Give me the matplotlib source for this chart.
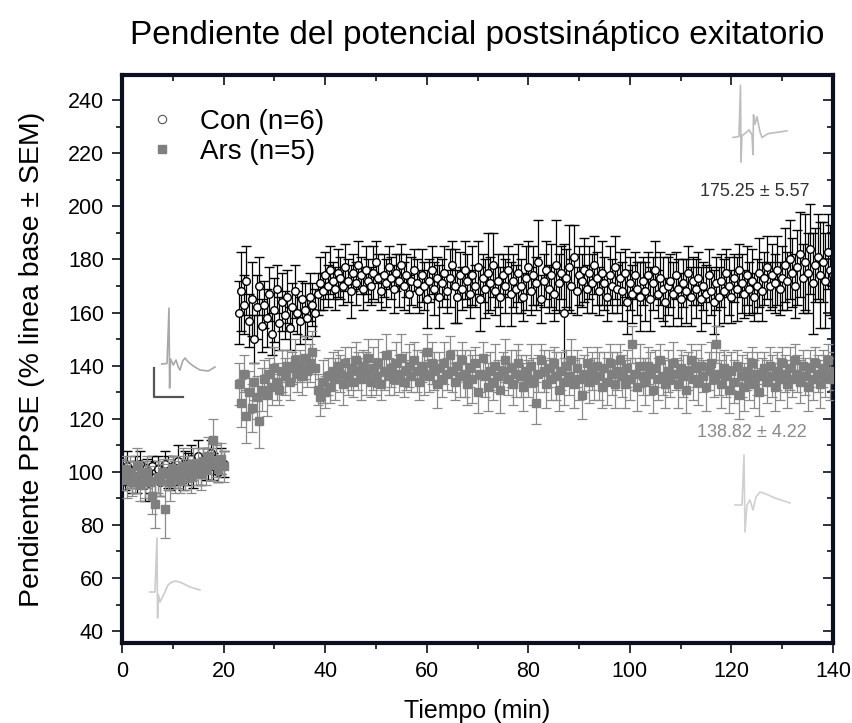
import numpy as np
import matplotlib
matplotlib.use('Agg')
import matplotlib.pyplot as plt
from matplotlib.lines import Line2D
from matplotlib.ticker import MultipleLocator

plt.rcParams['font.family'] = ['Liberation Sans', 'DejaVu Sans']

# sampling times (min): baseline, then post-stimulation
t_base = np.arange(0, 20.01, 0.5)
t_post = np.arange(23, 140.01, 0.5)

# Con (n=6)
con_base = [100, 97, 102, 99, 96, 101, 98, 103, 99, 95, 100, 97, 102, 98, 101, 96, 99, 103, 100, 98,
            102, 99, 104, 100, 97, 103, 101, 105, 99, 102, 106, 100, 104, 101, 103, 107, 102, 105, 100, 104, 103]
con_base_sem = [5, 4, 6, 5, 4, 5, 6, 5, 4, 6, 5, 5, 4, 6, 5, 5, 4, 5, 6, 5,
                4, 5, 6, 5, 4, 5, 6, 5, 5, 4, 6, 5, 5, 4, 6, 5, 5, 6, 4, 5, 5]
con_post = [160, 168, 163, 172, 157, 165, 150, 162, 170, 155,
            163, 158, 167, 152, 161, 169, 156, 164, 159, 166,
            154, 162, 168, 160, 157, 165, 161, 158, 166, 163,
            160, 167, 171, 168, 174, 170, 176, 172, 169, 175,
            173, 170, 177, 172, 168, 175, 171, 178, 174, 169,
            176, 172, 170, 175, 179, 173, 168, 174, 171, 177,
            173, 169, 175, 172, 178, 170, 174, 167, 172, 176,
            171, 168, 174, 170, 165, 172, 176, 169, 173, 166,
            171, 175, 168, 173, 178, 170, 166, 174, 169, 176,
            172, 167, 174, 170, 177, 165, 173, 169, 175, 171,
            178, 168, 172, 166, 174, 170, 176, 167, 172, 169,
            175, 170, 166, 173, 177, 168, 174, 171, 179, 165,
            172, 176, 169, 174, 167, 178, 171, 175, 160, 173,
            177, 170, 181, 168, 174, 172, 176, 169, 175, 171,
            178, 173, 168, 175, 171, 166, 174, 170, 177, 169,
            173, 168, 175, 164, 171, 167, 174, 169, 166, 172,
            168, 174, 165, 171, 176, 167, 173, 169, 164, 170,
            172, 167, 174, 169, 165, 171, 168, 175, 166, 172,
            169, 173, 165, 170, 167, 174, 168, 164, 171, 166,
            172, 168, 175, 170, 166, 173, 169, 176, 171, 167,
            174, 169, 172, 166, 170, 175, 168, 173, 177, 170,
            174, 171, 176, 169, 173, 178, 172, 180, 175, 170,
            177, 182, 173, 179, 175, 184, 171, 178, 181, 174,
            179, 172, 183, 176, 174]
con_post_sem = [12, 15, 11, 13, 10, 14, 9, 12, 11, 10,
                9, 11, 10, 8, 12, 9, 10, 11, 9, 10,
                8, 9, 10, 8, 9, 7, 10, 8, 9, 8,
                9, 8, 10, 7, 9, 8, 9, 7, 8, 9,
                8, 7, 9, 8, 10, 7, 8, 9, 7, 8,
                9, 8, 7, 10, 8, 9, 7, 8, 9, 8,
                8, 9, 7, 10, 8, 9, 8, 7, 9, 8,
                9, 8, 10, 9, 11, 8, 9, 10, 8, 12,
                9, 10, 8, 11, 9, 14, 10, 9, 8, 11,
                10, 9, 11, 8, 10, 12, 9, 11, 15, 10,
                12, 9, 10, 11, 8, 10, 9, 12, 10, 9,
                11, 10, 9, 12, 10, 9, 11, 10, 16, 9,
                10, 11, 9, 12, 10, 17, 11, 10, 26, 11,
                16, 10, 12, 9, 11, 10, 12, 9, 10, 11,
                11, 10, 9, 12, 10, 9, 11, 10, 12, 9,
                10, 11, 9, 12, 10, 11, 9, 10, 13, 9,
                11, 9, 12, 10, 11, 9, 10, 12, 9, 11,
                10, 12, 9, 11, 10, 9, 12, 10, 11, 9,
                11, 10, 12, 9, 11, 10, 9, 12, 10, 11,
                10, 12, 9, 11, 10, 9, 12, 10, 11, 9,
                11, 10, 12, 9, 10, 13, 11, 10, 12, 9,
                12, 11, 13, 10, 12, 14, 11, 15, 13, 12,
                14, 16, 13, 18, 15, 17, 19, 14, 16, 20,
                15, 18, 14, 17, 16]

# Ars (n=5)
ars_base = [99, 101, 97, 100, 96, 98, 102, 95, 99, 97, 100, 96, 91, 88, 98, 97, 100, 86, 99, 96,
            101, 98, 100, 97, 102, 99, 101, 98, 103, 100, 102, 99, 104, 101, 106, 103, 112, 104, 101, 105, 102]
ars_base_sem = [6, 5, 7, 6, 5, 6, 7, 6, 5, 7, 6, 6, 7, 9, 6, 6, 5, 11, 6, 7,
                5, 6, 6, 5, 7, 6, 5, 6, 6, 5, 7, 6, 5, 6, 7, 6, 8, 6, 5, 6, 6]
ars_post = [133, 126, 137, 121, 130, 124, 134, 128, 119, 131,
            135, 129, 137, 132, 139, 134, 131, 138, 136, 140,
            134, 139, 142, 137, 140, 136, 143, 138, 141, 145,
            139, 131, 128, 134, 130, 136, 132, 138, 135, 140,
            137, 133, 141, 136, 139, 134, 142, 138, 135, 140,
            137, 143, 134, 139, 136, 141, 133, 138, 144, 136,
            139, 135, 141, 137, 143, 134, 138, 140, 136, 142,
            138, 134, 140, 137, 145, 136, 141, 138, 133, 139,
            135, 141, 137, 144, 138, 134, 140, 136, 142, 137,
            133, 139, 135, 141, 130, 137, 143, 136, 132, 138,
            134, 140, 136, 131, 138, 142, 135, 139, 133, 137,
            141, 136, 132, 138, 135, 140, 134, 126, 137, 142,
            138, 133, 139, 135, 141, 136, 131, 138, 134, 140,
            136, 142, 133, 139, 135, 129, 137, 141, 134, 138,
            135, 140, 136, 132, 139, 134, 141, 137, 133, 138,
            142, 136, 133, 139, 135, 148, 137, 132, 140, 136,
            134, 140, 137, 131, 139, 135, 142, 136, 133, 138,
            135, 141, 137, 133, 139, 136, 131, 138, 142, 135,
            139, 134, 140, 136, 132, 138, 141, 135, 148, 137,
            133, 139, 136, 131, 138, 134, 140, 129, 136, 132,
            138, 135, 141, 133, 137, 130, 136, 139, 134, 140,
            136, 132, 138, 135, 141, 137, 133, 139, 135, 142,
            137, 134, 140, 136, 132, 139, 135, 141, 137, 133,
            139, 136, 142, 135, 138]
ars_post_sem = [8, 9, 7, 10, 8, 9, 7, 8, 10, 8,
                7, 8, 6, 7, 8, 7, 6, 8, 7, 6,
                7, 6, 8, 7, 6, 7, 8, 6, 7, 8,
                7, 6, 7, 8, 6, 7, 6, 7, 8, 6,
                7, 8, 6, 7, 8, 6, 7, 7, 8, 6,
                8, 7, 6, 8, 7, 9, 6, 7, 8, 7,
                7, 6, 8, 7, 9, 6, 7, 8, 6, 7,
                8, 7, 6, 8, 7, 6, 8, 7, 9, 6,
                7, 8, 6, 7, 8, 7, 6, 8, 7, 9,
                8, 7, 9, 6, 8, 7, 6, 8, 9, 7,
                7, 8, 6, 9, 7, 8, 6, 7, 8, 9,
                7, 8, 9, 6, 7, 8, 9, 8, 7, 6,
                8, 9, 7, 8, 6, 9, 8, 7, 9, 6,
                7, 8, 9, 7, 8, 9, 7, 6, 8, 7,
                8, 7, 9, 8, 6, 9, 7, 8, 9, 7,
                6, 8, 9, 7, 8, 7, 6, 9, 8, 7,
                9, 7, 8, 9, 7, 8, 6, 7, 9, 8,
                7, 8, 6, 9, 7, 8, 9, 7, 6, 8,
                7, 9, 8, 6, 9, 7, 8, 7, 7, 8,
                9, 7, 8, 9, 7, 8, 6, 9, 8, 9,
                7, 8, 6, 9, 8, 9, 7, 6, 8, 7,
                8, 9, 7, 8, 6, 7, 9, 8, 7, 6,
                7, 8, 6, 7, 9, 7, 8, 6, 7, 9,
                7, 8, 6, 8, 7]

# example fEPSP traces (sample index, amplitude in arbitrary units, y grows downward)
trace_con_base_x = [11.7, 17, 19, 19.6, 20.5, 23.3, 26, 28.3, 30, 32.7, 35, 38.3, 43.3, 50, 58.3, 65]
trace_con_base_y = [61, 60.5, 5, 85, 56, 62, 57, 64, 67, 58, 55, 59, 63, 67, 68, 64]
scalebar_x = [4, 4, 33]
scalebar_y = [65, 94, 94]
trace_ars_base_x = [5, 10, 12, 12.6, 13.5, 15, 17, 20, 23, 27, 31, 37, 45, 55]
trace_ars_base_y = [59, 59, 5, 85, 62, 69, 65, 59, 52, 49, 48, 50, 54, 57]
trace_con_post_x = [5, 11, 12.5, 13, 14, 18, 21, 24, 25, 25.5, 27, 29, 32, 34, 40, 59]
trace_con_post_y = [60, 59, 5, 86, 58, 55, 52, 57, 78, 36, 46, 38, 54, 60, 56, 53]
trace_ars_post_x = [5, 12, 14, 15, 17, 20, 23, 26, 30, 36, 45, 60]
trace_ars_post_y = [55, 55, 5, 82, 55, 50, 60, 47, 42, 44, 48, 53]

con_label = 'Con (n=6)'
ars_label = 'Ars (n=5)'
con_final = '175.25 \u00b1 5.57'
ars_final = '138.82 \u00b1 4.22'

FRAME = '#0b0f1e'
GREY = '#7f7f7f'

fig = plt.figure(figsize=(8.52, 7.23), dpi=100)
ax = fig.add_axes([122 / 852, 80 / 723, 711 / 852, 568 / 723])

con_t = np.concatenate([t_base, t_post])
con_m = np.array(con_base + con_post)
con_e = np.array(con_base_sem + con_post_sem)
ars_m = np.array(ars_base + ars_post)
ars_e = np.array(ars_base_sem + ars_post_sem)

ax.errorbar(con_t, con_m, yerr=con_e, fmt='o', ms=5.5, mfc='white', mec='black', mew=1.0,
            ecolor='black', elinewidth=0.9, capsize=3.5, capthick=0.9, zorder=2)
ax.errorbar(con_t, ars_m, yerr=ars_e, fmt='s', ms=5.5, mfc=GREY, mec=GREY,
            ecolor='#8a8a8a', elinewidth=0.9, capsize=3.5, capthick=0.9, zorder=3)

ax.set_xlim(0, 140)
ax.set_ylim(35.5, 249.5)
ax.xaxis.set_major_locator(MultipleLocator(20))
ax.xaxis.set_minor_locator(MultipleLocator(10))
ax.yaxis.set_major_locator(MultipleLocator(20))
ax.yaxis.set_minor_locator(MultipleLocator(10))
ax.tick_params(which='major', direction='out', length=7, width=1.2, color=FRAME, labelsize=15.5, pad=6)
ax.tick_params(which='minor', direction='out', length=4, width=1.2, color=FRAME)

for s in ax.spines.values():
    s.set_linewidth(3)
    s.set_color(FRAME)

# inward ticks on top and right
top = ax.secondary_xaxis('top')
top.xaxis.set_major_locator(MultipleLocator(20))
top.xaxis.set_minor_locator(MultipleLocator(10))
top.tick_params(which='major', direction='in', length=7, width=1.2, color=FRAME, labeltop=False)
top.tick_params(which='minor', direction='in', length=4, width=1.2, color=FRAME)
top.spines['top'].set_visible(False)
right = ax.secondary_yaxis('right')
right.yaxis.set_major_locator(MultipleLocator(20))
right.yaxis.set_minor_locator(MultipleLocator(10))
right.tick_params(which='major', direction='in', length=7, width=1.2, color=FRAME, labelright=False)
right.tick_params(which='minor', direction='in', length=4, width=1.2, color=FRAME)
right.spines['right'].set_visible(False)

ax.set_title('Pendiente del potencial postsináptico exitatorio', fontsize=24, pad=22)
ax.set_xlabel('Tiempo (min)', fontsize=18, labelpad=12)
ax.set_ylabel('Pendiente PPSE (% linea base \u00b1 SEM)', fontsize=20.5, labelpad=16)

handles = [Line2D([], [], ls='none', marker='o', ms=6, mfc='white', mec='#555555', mew=0.8),
           Line2D([], [], ls='none', marker='s', ms=6, mfc=GREY, mec=GREY)]
ax.legend(handles, [con_label, ars_label], loc='upper left', bbox_to_anchor=(-0.003, 0.985),
          frameon=False, fontsize=20, handletextpad=0.8, labelspacing=0.15, handlelength=1.2)

ax.text(0.89, 0.795, con_final, transform=ax.transAxes, ha='center', va='center',
        fontsize=13, color='#333333')
ax.text(0.886, 0.371, ars_final, transform=ax.transAxes, ha='center', va='center',
        fontsize=13, color='#8a8a8a')


def draw_trace(bounds, xs, ys, w, h, color, lw=1.2):
    ins = ax.inset_axes(bounds)
    ins.plot(xs, ys, color=color, lw=lw)
    ins.set_xlim(0, w)
    ins.set_ylim(h, 0)
    ins.axis('off')
    ins.patch.set_alpha(0)
    return ins


ins_a = draw_trace([0.0394, 0.4278, 0.0956, 0.1708], trace_con_base_x, trace_con_base_y, 68, 97, '#a8a8a8')
ins_a.plot(scalebar_x, scalebar_y, color='#555555', lw=1.6)
draw_trace([0.0323, 0.0352, 0.0844, 0.1585], trace_ars_base_x, trace_ars_base_y, 60, 90, '#cccccc')
draw_trace([0.8523, 0.84, 0.09, 0.15], trace_con_post_x, trace_con_post_y, 64, 90, '#bdbdbd')
draw_trace([0.8551, 0.1866, 0.0914, 0.1532], trace_ars_post_x, trace_ars_post_y, 65, 87, '#d0d0d0')

fig.savefig('out.png', dpi=100)
